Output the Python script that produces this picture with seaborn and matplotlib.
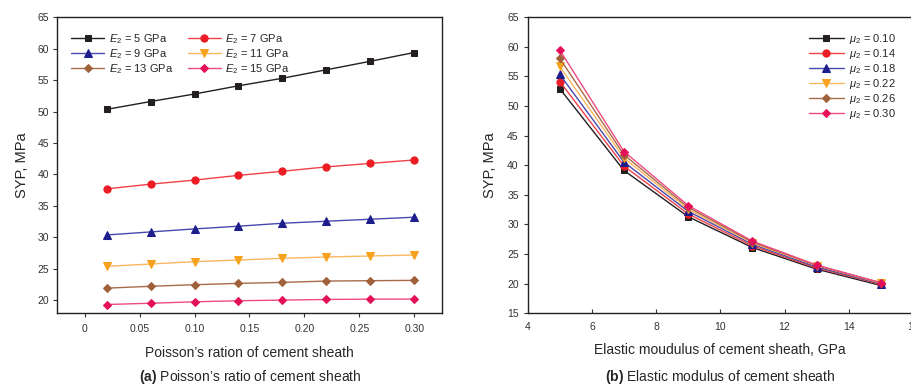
import numpy as np
import pandas as pd
import matplotlib
matplotlib.use("Agg")
import matplotlib.pyplot as plt
import seaborn as sns

# ---------------- data ----------------
poisson = [0.02, 0.06, 0.10, 0.14, 0.18, 0.22, 0.26, 0.30]
E_labels = ["5", "7", "9", "11", "13", "15"]
syp_E5 = [50.35, 51.6, 52.8, 54.1, 55.3, 56.65, 58.0, 59.4]
syp_E7 = [37.7, 38.45, 39.1, 39.85, 40.5, 41.2, 41.75, 42.3]
syp_E9 = [30.37, 30.85, 31.33, 31.76, 32.23, 32.55, 32.87, 33.19]
syp_E11 = [25.37, 25.74, 26.12, 26.38, 26.65, 26.86, 27.02, 27.18]
syp_E13 = [21.9, 22.2, 22.45, 22.66, 22.82, 23.03, 23.09, 23.14]
syp_E15 = [19.3, 19.5, 19.73, 19.9, 20.0, 20.1, 20.16, 20.16]

modulus = [5, 7, 9, 11, 13, 15]
mu_labels = ["0.10", "0.14", "0.18", "0.22", "0.26", "0.30"]
syp_mu010 = [52.9, 39.1, 31.3, 26.1, 22.45, 19.7]
syp_mu014 = [54.1, 39.85, 31.76, 26.38, 22.66, 19.9]
syp_mu018 = [55.3, 40.5, 32.2, 26.65, 22.82, 20.0]
syp_mu022 = [56.65, 41.2, 32.55, 26.86, 23.03, 20.1]
syp_mu026 = [58.0, 41.75, 32.87, 27.02, 23.09, 20.16]
syp_mu030 = [59.4, 42.3, 33.19, 27.18, 23.14, 20.16]

left_x_ticks = [0, 0.05, 0.10, 0.15, 0.20, 0.25, 0.30]
left_x_ticklabels = ["0", "0.05", "0.10", "0.15", "0.20", "0.25", "0.30"]

# ---------------- style ----------------
sns.set_style("ticks")
plt.rcParams["font.family"] = ["Liberation Sans", "DejaVu Sans"]
plt.rcParams["mathtext.fontset"] = "custom"
plt.rcParams["mathtext.rm"] = "Liberation Sans"
plt.rcParams["mathtext.it"] = "Liberation Sans:italic"
plt.rcParams["mathtext.bf"] = "Liberation Sans:bold"

colors = ["#231f20", "#ec1c24", "#1d1d8c", "#f7a21e", "#a0603a", "#e5105a"]
line_colors = ["#231f20", "#f04048", "#4848b0", "#f9b860", "#a86a48", "#ee4a80"]
markers = ["s", "o", "^", "v", "D", "D"]
msizes = [4.5, 5.2, 5.5, 5.5, 4.5, 4.5]

fig = plt.figure(figsize=(9.11, 3.87), dpi=100)
W, H = 911, 387
axA = fig.add_axes([57.3 / W, 1 - 313.3 / H, 385.0 / W, 296.3 / H])
axB = fig.add_axes([527.7 / W, 1 - 313.3 / H, 385.2 / W, 296.3 / H])

# ---------------- panel a ----------------
seriesA = [syp_E5, syp_E7, syp_E9, syp_E11, syp_E13, syp_E15]
for i, (vals, lab) in enumerate(zip(seriesA, E_labels)):
    df = pd.DataFrame({"x": poisson, "y": vals})
    sns.lineplot(data=df, x="x", y="y", ax=axA, color=line_colors[i], lw=1.0,
                 marker=markers[i], markersize=msizes[i],
                 markerfacecolor=colors[i], markeredgecolor=colors[i],
                 label=r"$E_2$ = " + lab + " GPa")

axA.set_xlim(-0.025, 0.3256)
axA.set_ylim(17.9, 65.05)
axA.set_xticks(left_x_ticks)
axA.set_xticklabels(left_x_ticklabels)
axA.set_yticks(np.arange(20, 66, 5))
axA.tick_params(axis="both", direction="out", length=3, width=0.8,
                labelsize=7.5, colors="#333333", pad=3)
axA.tick_params(axis="x", pad=5)
for s in axA.spines.values():
    s.set_color("#222222")
    s.set_linewidth(1.0)
axA.set_xlabel("Poisson’s ration of cement sheath", fontsize=10, labelpad=8)
axA.set_ylabel("SYP, MPa", fontsize=10.5, labelpad=6)
hA, lA = axA.get_legend_handles_labels()
order = [0, 2, 4, 1, 3, 5]  # row-wise filling: (5,7) (9,11) (13,15)
axA.legend([hA[k] for k in order], [lA[k] for k in order],
           ncol=2, loc="upper left", bbox_to_anchor=(0.015, 0.975), frameon=False,
           fontsize=8, handlelength=3.0, columnspacing=1.3, labelspacing=0.1,
           handletextpad=0.4, borderaxespad=0.3)

# ---------------- panel b ----------------
seriesB = [syp_mu010, syp_mu014, syp_mu018, syp_mu022, syp_mu026, syp_mu030]
for i, (vals, lab) in enumerate(zip(seriesB, mu_labels)):
    df = pd.DataFrame({"x": modulus, "y": vals})
    sns.lineplot(data=df, x="x", y="y", ax=axB, color=line_colors[i], lw=1.0,
                 marker=markers[i], markersize=msizes[i],
                 markerfacecolor=colors[i], markeredgecolor=colors[i],
                 label=r"$\mu_2$ = " + lab)

axB.set_xlim(4, 16)
axB.set_ylim(15, 65)
axB.set_xticks(np.arange(4, 17, 2))
axB.set_yticks(np.arange(15, 66, 5))
axB.tick_params(axis="y", direction="out", length=3, width=0.8,
                labelsize=7.5, colors="#333333")
axB.tick_params(axis="x", direction="in", length=3, width=0.8,
                labelsize=7.5, colors="#333333", pad=6)
for s in axB.spines.values():
    s.set_color("#222222")
    s.set_linewidth(1.0)
axB.set_xlabel("Elastic moudulus of cement sheath, GPa", fontsize=10, labelpad=8)
axB.set_ylabel("SYP, MPa", fontsize=10.5, labelpad=7)
axB.legend(loc="upper right", bbox_to_anchor=(0.975, 0.975), frameon=False,
           fontsize=8, handlelength=3.2, labelspacing=0.08, handletextpad=0.4,
           borderaxespad=0.3)

# ---------------- captions ----------------
fig.text(250 / W, 1 - 377 / H, r"$\mathbf{(a)}$ Poisson’s ratio of cement sheath",
         ha="center", va="center", fontsize=10)
fig.text(720 / W, 1 - 377 / H, r"$\mathbf{(b)}$ Elastic modulus of cement sheath",
         ha="center", va="center", fontsize=10)

fig.savefig("out.png", dpi=100)
